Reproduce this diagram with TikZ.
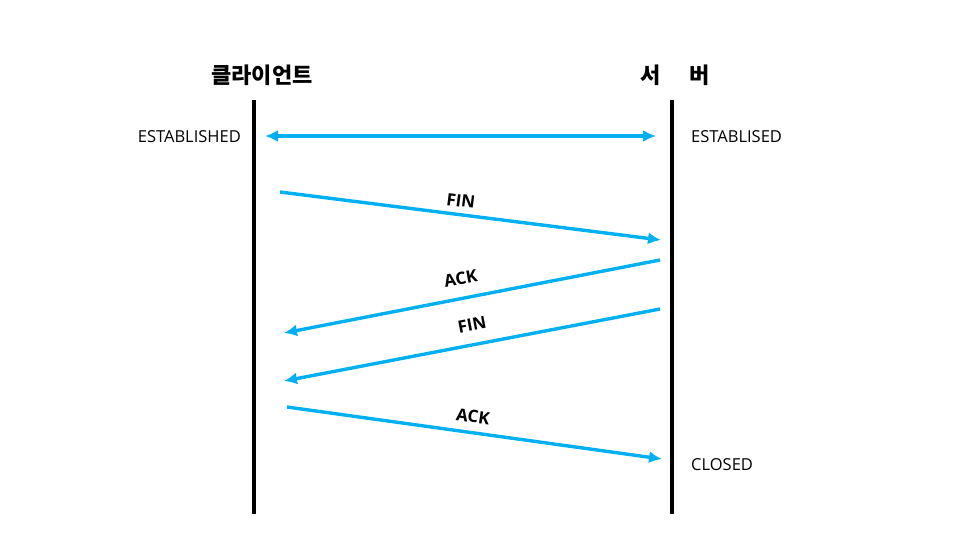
\documentclass[tikz,border=0pt]{standalone}
\usepackage{fontspec}
\setmainfont{Open Sans}
\newfontfamily\krfont{Noto Sans CJK KR}
\usetikzlibrary{arrows.meta}
\definecolor{msgblue}{HTML}{00B0F0}
\begin{document}
\begin{tikzpicture}[x=1pt,y=-1pt,
  lifeline/.style={line width=4pt,black},
  msg/.style={line width=3.4pt,msgblue,-{Latex[length=13pt,width=12pt]}},
  msglabel/.style={text=black,font=\fontsize{17}{18}\selectfont\bfseries,inner sep=0pt},
  statelabel/.style={text=black,font=\fontsize{16.5}{18}\selectfont,inner sep=0pt},
  title/.style={font=\krfont\bfseries\fontsize{22}{24}\selectfont,inner sep=0pt}]
\useasboundingbox (0,0) rectangle (966,543);
% lifelines
\coordinate (cTop) at (254,100);
\coordinate (cBot) at (254,514);
\coordinate (sTop) at (672,100);
\coordinate (sBot) at (672,514);
\draw[lifeline] (cTop) -- (cBot);
\draw[lifeline] (sTop) -- (sBot);
% titles
\node[title] (client) at (262,75) {클라이언트};
\node[title] (srv1) at (651,75) {서};
\node[title] (srv2) at (700,75) {버};
% states
\node[statelabel,anchor=east] (cEst) at (241,137) {ESTABLISHED};
\node[statelabel,anchor=west] (sEst) at (691,137) {ESTABLISED};
\node[statelabel,anchor=west] (sClosed) at (691,465) {CLOSED};
% message end points
\coordinate (e1a) at (265,136);
\coordinate (e1b) at (656,136);
\coordinate (f1a) at (280,192);
\coordinate (f1b) at (661,240);
\coordinate (a1a) at (660,260);
\coordinate (a1b) at (284,333);
\coordinate (f2a) at (660,309);
\coordinate (f2b) at (284,381);
\coordinate (a2a) at (287,407);
\coordinate (a2b) at (662,459);
% messages
\draw[msg,{Latex[length=13pt,width=12pt]}-{Latex[length=13pt,width=12pt]}] (e1a) -- (e1b);
\draw[msg] (f1a) -- node[msglabel,pos=0.47,above=6pt,sloped] (lf1) {FIN} (f1b);
\draw[msg] (a1a) -- node[msglabel,pos=0.52,above=12pt,sloped] (la1) {ACK} (a1b);
\draw[msg] (f2a) -- node[msglabel,pos=0.49,above=12pt,sloped] (lf2) {FIN} (f2b);
\draw[msg] (a2a) -- node[msglabel,pos=0.49,above=8pt,sloped] (la2) {ACK} (a2b);
\end{tikzpicture}
\end{document}
